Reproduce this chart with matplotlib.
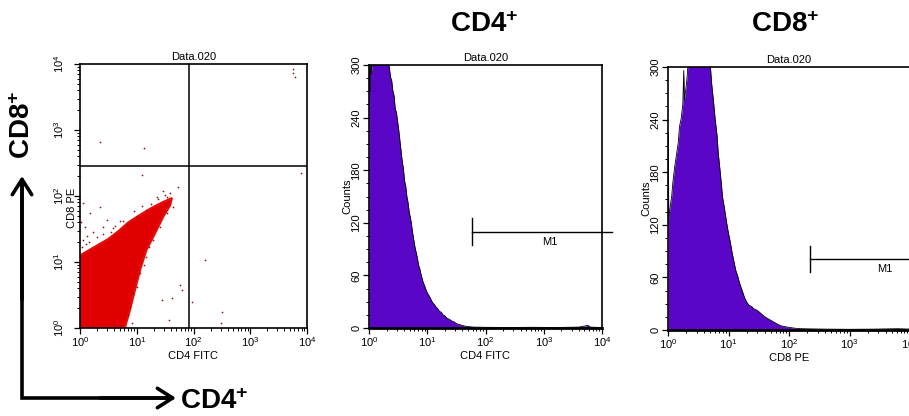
import numpy as np
import matplotlib
matplotlib.use("Agg")
import matplotlib.pyplot as plt
from matplotlib.ticker import FixedLocator, MultipleLocator, NullFormatter
from matplotlib.lines import Line2D
from matplotlib.patches import FancyArrowPatch

plt.rcParams['font.family'] = ['Liberation Sans Narrow', 'Liberation Sans', 'DejaVu Sans']
plt.rcParams['mathtext.fontset'] = 'custom'
plt.rcParams['mathtext.rm'] = 'Liberation Sans'
plt.rcParams['mathtext.it'] = 'Liberation Sans:italic'
plt.rcParams['mathtext.bf'] = 'Liberation Sans:bold'

W, H = 909, 416

# --- dot plot (CD4 FITC vs CD8 PE), log10 units ---
# outline of the dense red population
cloud_x = [0.0, 0.0, 0.26, 0.50, 0.68, 0.85, 1.03, 1.26, 1.44, 1.62,
           1.59, 1.47, 1.32, 1.17, 1.06, 0.97, 0.88, 0.79]
cloud_y = [0.0, 1.10, 1.23, 1.35, 1.47, 1.60, 1.70, 1.82, 1.90, 1.97,
           1.86, 1.69, 1.43, 1.18, 0.88, 0.58, 0.27, 0.0]
# scattered events outside the dense population
dots_x = [3.76, 3.78, 3.75, 0.35, 1.13, 1.09, 2.20, 1.76, 1.79, 1.44, 1.62,
          1.97, 1.56, 2.50, 2.49, 1.73, 1.47, 1.53, 1.64, 0.06, 0.18, 0.35,
          0.47, 0.09, 0.23, 0.41, 0.59, 0.82, 1.00, 1.17, 1.35, 0.03, 0.06,
          0.88, 0.94, 1.06, 1.17, 1.29, 1.41, 1.53, 0.91, 3.90, 0.12, 0.70,
          1.25, 1.38, 0.15, 0.30, 0.55, 0.75, 0.95, 1.10, 1.50, 1.58, 0.84,
          1.00, 1.12, 1.22, 0.02, 0.10, 0.40, 0.62]
dots_y = [3.86, 3.80, 3.92, 2.82, 2.72, 2.32, 1.03, 0.65, 0.58, 0.42, 0.45,
          0.40, 0.12, 0.25, 0.07, 2.14, 2.07, 1.99, 1.84, 1.89, 1.74, 1.84,
          1.64, 1.53, 1.46, 1.53, 1.51, 1.56, 1.69, 1.79, 1.99, 1.23, 1.33,
          0.32, 0.53, 0.83, 1.08, 1.33, 1.53, 1.74, 0.08, 2.35, 1.40, 1.62,
          1.88, 1.95, 1.30, 1.38, 1.45, 1.62, 1.78, 1.85, 2.02, 2.05, 0.20,
          0.62, 0.95, 1.22, 1.60, 1.28, 1.42, 1.55]
quad_x = 83    # CD4 FITC gate
quad_y = 282   # CD8 PE gate

# --- CD4 FITC histogram ---
cd4_log = [0.00, 0.01, 0.02, 0.03, 0.05, 0.07, 0.10, 0.15, 0.20, 0.25, 0.30,
           0.33, 0.35, 0.37, 0.39, 0.41, 0.43, 0.45, 0.47, 0.49, 0.51, 0.53,
           0.55, 0.57, 0.59, 0.61, 0.63, 0.65, 0.67, 0.69, 0.71, 0.73, 0.75,
           0.77, 0.79, 0.81, 0.83, 0.85, 0.87, 0.89, 0.91, 0.93, 0.95, 0.97,
           1.00, 1.03, 1.06, 1.09, 1.12, 1.15, 1.18, 1.21, 1.24, 1.27, 1.30,
           1.34, 1.38, 1.42, 1.46, 1.50, 1.55, 1.60, 1.66, 1.72, 1.80, 2.00,
           2.40, 2.80, 3.20, 3.60, 3.76, 3.80, 3.90, 4.00]
cd4_counts = [250, 300, 270, 310, 290, 330, 345, 350, 348, 340, 322,
              305, 296, 286, 282, 270, 265, 250, 246, 236, 226, 214,
              202, 190, 182, 168, 162, 150, 143, 132, 126, 118, 108,
              100, 92, 86, 80, 72, 68, 62, 57, 52, 49, 45,
              40, 37, 33, 29, 27, 24, 22, 19, 18, 15, 14,
              11, 10, 8, 7, 5, 4, 3, 2, 1.5, 1, 0.8,
              0.6, 0.8, 0.6, 1, 3, 1, 0.8, 0.5]
cd4_gate = [1.77, 4.0]   # M1 range, log10
cd4_gate_y = 110
cd4_label_x = 3.1

# --- CD8 PE histogram ---
cd8_log = [0.00, 0.005, 0.012, 0.03, 0.06, 0.08, 0.11, 0.14, 0.17, 0.19, 0.22,
           0.245, 0.26, 0.27, 0.30, 0.32, 0.34, 0.40, 0.50, 0.60, 0.68, 0.72,
           0.75, 0.78, 0.81, 0.83, 0.86, 0.88, 0.90, 0.93, 0.97, 1.00, 1.03,
           1.06, 1.09, 1.12, 1.15, 1.18, 1.21, 1.24, 1.27, 1.30, 1.34, 1.38,
           1.42, 1.46, 1.50, 1.55, 1.60, 1.65, 1.70, 1.75, 1.80, 1.86, 1.92,
           2.00, 2.10, 2.20, 2.40, 2.60, 3.00, 3.40, 3.80, 4.00]
cd8_counts = [118, 225, 125, 138, 152, 168, 186, 200, 214, 232, 242,
              258, 296, 262, 278, 292, 318, 340, 350, 345, 320, 282,
              262, 240, 222, 202, 182, 168, 152, 140, 122, 110, 100,
              88, 78, 68, 62, 54, 48, 42, 36, 32, 28, 27,
              24, 23, 21, 18, 15, 13, 11, 9, 7, 5, 4,
              3, 2, 1.5, 1.2, 1, 0.8, 1, 1.5, 1]
cd8_gate = [2.35, 4.0]
cd8_gate_y = 81
cd8_label_x = 3.58

decades = [0, 1, 2, 3, 4]
count_ticks = [0, 60, 120, 180, 240, 300]

purple = '#5a06c6'
small = 8


def px_axes(fig, left, top, right, bottom):
    return fig.add_axes([left / W, 1 - bottom / H, (right - left) / W, (bottom - top) / H])


def log_axis(axis):
    axis.set_major_locator(FixedLocator([10.0 ** d for d in decades]))
    minors = [m * 10.0 ** d for d in decades[:-1] for m in range(2, 10)]
    axis.set_minor_locator(FixedLocator(minors))
    axis.set_minor_formatter(NullFormatter())


def style(ax):
    for s in ax.spines.values():
        s.set_linewidth(1.2)
    ax.tick_params(which='major', length=4, width=0.9, labelsize=small, pad=1.5)
    ax.tick_params(which='minor', length=2.5, width=0.7)
    ax.set_title('Data.020', fontsize=small, pad=3)


fig = plt.figure(figsize=(W / 100, H / 100), dpi=100)

# dot plot
ax1 = px_axes(fig, 80, 64, 307, 328)
ax1.set_xscale('log')
ax1.set_yscale('log')
ax1.set_xlim(1, 1e4)
ax1.set_ylim(1, 1e4)
ax1.fill(10 ** np.array(cloud_x), 10 ** np.array(cloud_y), color='#e00000', lw=1.5, ec='#e4100c')
ax1.scatter(10 ** np.array(dots_x), 10 ** np.array(dots_y), s=1.5, color='#8b1010', lw=0)
ax1.axvline(quad_x, color='black', lw=1.1)
ax1.axhline(quad_y, color='black', lw=1.1)
log_axis(ax1.xaxis)
log_axis(ax1.yaxis)
ax1.set_xticklabels([rf'$10^{{{d}}}$' for d in decades])
ax1.set_yticklabels([rf'$10^{{{d}}}$' for d in decades], rotation=90, va='center')
ax1.set_xlabel('CD4 FITC', fontsize=small, labelpad=1)
style(ax1)
ax1.tick_params(axis='y', which='major', pad=6)
ax1.set_ylabel('CD8 PE', fontsize=small)
ax1.yaxis.set_label_coords(-0.012, 0.455)


def histogram(ax, xs, counts, gate, gate_y, label_x, xlabel):
    x = 10 ** np.array(xs)
    ax.set_xscale('log')
    ax.set_xlim(1, 1e4)
    ax.set_ylim(0, 300)
    ax.fill_between(x, 0, counts, color=purple, lw=0)
    ax.plot(x, counts, color='black', lw=0.6)
    log_axis(ax.xaxis)
    ax.set_xticklabels([rf'$10^{{{d}}}$' for d in decades])
    ax.yaxis.set_major_locator(FixedLocator(count_ticks))
    ax.yaxis.set_minor_locator(MultipleLocator(15))
    ax.set_yticklabels([str(c) for c in count_ticks], rotation=90, va='center')
    ax.set_xlabel(xlabel, fontsize=small, labelpad=1)
    ax.set_ylabel('Counts', fontsize=small, labelpad=-1)
    style(ax)
    ax.spines['bottom'].set_linewidth(2)
    # M1 marker
    g0, g1 = 10 ** gate[0], 10 ** gate[1]
    ax.plot([g0, g1 * 1.5], [gate_y, gate_y], color='black', lw=1, clip_on=False)
    ax.plot([g0, g0], [gate_y - 15, gate_y + 15], color='black', lw=1)
    ax.text(10 ** label_x, gate_y - 6, 'M1', fontsize=small, ha='center', va='top')


ax2 = px_axes(fig, 369, 65, 602, 328)
histogram(ax2, cd4_log, cd4_counts, cd4_gate, cd4_gate_y, cd4_label_x, 'CD4 FITC')

ax3 = px_axes(fig, 668, 67, 910, 330)
histogram(ax3, cd8_log, cd8_counts, cd8_gate, cd8_gate_y, cd8_label_x, 'CD8 PE')

# big labels
big = dict(fontsize=20, fontweight='bold', family='Liberation Sans', color='black')
fig.text(484 / W, 1 - 25 / H, r'$\mathbf{CD4^{+}}$', ha='center', va='center', **big)
fig.text(785 / W, 1 - 25 / H, r'$\mathbf{CD8^{+}}$', ha='center', va='center', **big)
fig.text(23 / W, 1 - 125 / H, r'$\mathbf{CD8^{+}}$', ha='center', va='center', rotation=90, **big)
fig.text(180 / W, 1 - 402 / H, r'$\mathbf{CD4^{+}}$', ha='left', va='center', **big)

# axis arrows
fig.add_artist(Line2D([22 / W, 22 / W, 170 / W], [1 - 182 / H, 1 - 398 / H, 1 - 398 / H],
                      transform=fig.transFigure, color='black', lw=2.6,
                      solid_joinstyle='miter', solid_capstyle='butt'))
arrow = dict(arrowstyle='->,head_length=0.55,head_width=0.35', color='black', lw=2.6,
             mutation_scale=20, shrinkA=0, shrinkB=0)
fig.add_artist(FancyArrowPatch((22 / W, 1 - 300 / H), (22 / W, 1 - 176 / H),
                               transform=fig.transFigure, **arrow))
fig.add_artist(FancyArrowPatch((100 / W, 1 - 398 / H), (176 / W, 1 - 398 / H),
                               transform=fig.transFigure, **arrow))

fig.savefig('out.png', dpi=100, facecolor='white')
